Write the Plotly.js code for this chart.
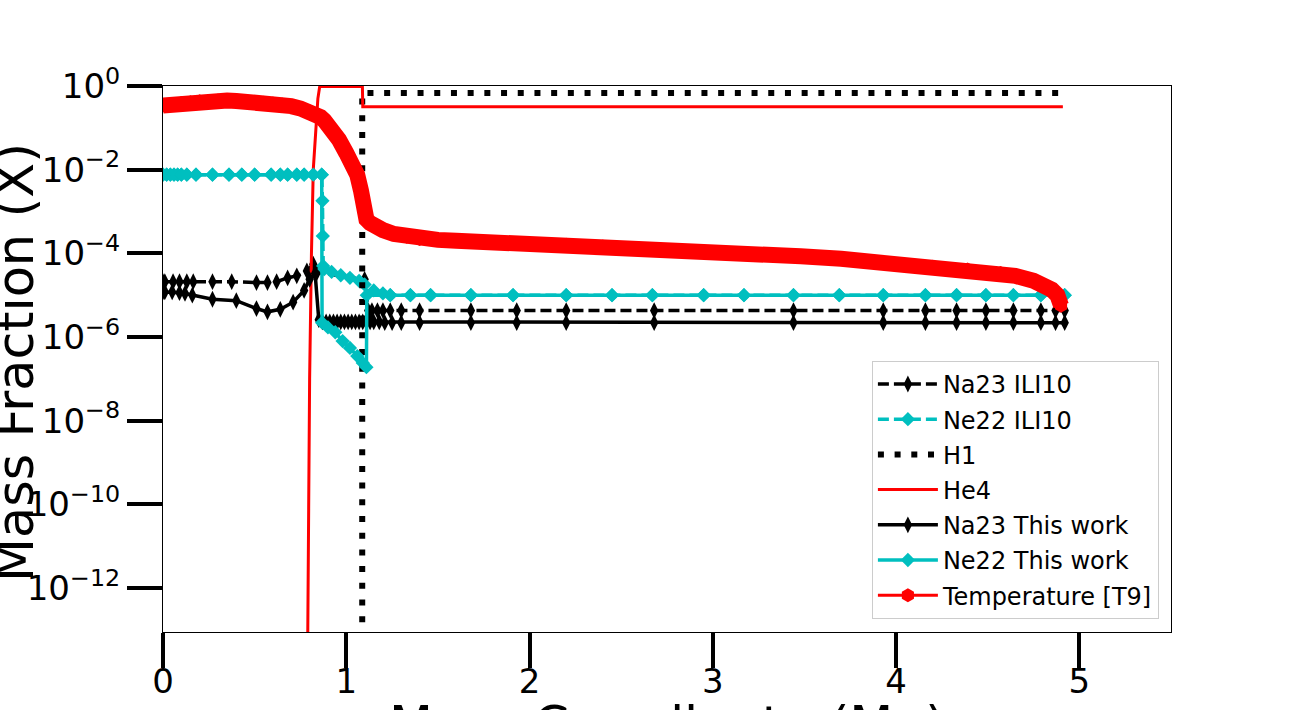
<!DOCTYPE html>
<html><head><meta charset="utf-8">
<script src="https://cdn.plot.ly/plotly-3.0.1.min.js"></script>
<style>body{margin:0;background:#fff}#chart{width:1301px;height:710px}</style>
</head><body><div id="chart"></div>
<script>
// ---- data ----
const naIliMass = [0, 0.01, 0.055, 0.09, 0.13, 0.165, 0.27, 0.375, 0.51, 0.57, 0.62, 0.68, 0.73, 0.785, 0.82, 0.84, 1.1, 1.12, 1.14, 1.17, 1.2, 1.24, 1.3, 1.4, 1.68, 1.93, 2.2, 2.68, 3.44, 3.93, 4.16, 4.33, 4.49, 4.64, 4.79, 4.87, 4.92];
const naIliX = [2.1e-5, 2.1e-5, 2.1e-5, 2.1e-5, 2.1e-5, 2.1e-5, 2.1e-5, 2.1e-5, 2.0e-5, 2.0e-5, 2.1e-5, 2.6e-5, 2.9e-5, 3.8e-5, 5.5e-5, 3.5e-5, 2.4e-5, 4.3e-6, 4.3e-6, 4.3e-6, 4.3e-6, 4.3e-6, 4.3e-6, 4.3e-6, 4.3e-6, 4.3e-6, 4.3e-6, 4.3e-6, 4.3e-6, 4.3e-6, 4.3e-6, 4.3e-6, 4.3e-6, 4.3e-6, 4.3e-6, 4.3e-6, 4.3e-6];

const neIliMass = [0, 0.02, 0.04, 0.06, 0.08, 0.10, 0.13, 0.18, 0.27, 0.36, 0.43, 0.50, 0.59, 0.64, 0.68, 0.73, 0.77, 0.82, 0.866, 0.87, 0.872, 0.874, 0.88, 0.92, 0.97, 1.02, 1.07, 1.1, 1.15, 1.2, 1.24, 1.35, 1.46, 1.68, 1.91, 2.20, 2.45, 2.67, 2.95, 3.17, 3.44, 3.69, 3.93, 4.16, 4.33, 4.49, 4.64, 4.79, 4.87, 4.92];
const neIliX = [7.6e-3, 7.6e-3, 7.6e-3, 7.6e-3, 7.6e-3, 7.6e-3, 7.6e-3, 7.6e-3, 7.6e-3, 7.6e-3, 7.6e-3, 7.6e-3, 7.6e-3, 7.6e-3, 7.6e-3, 7.6e-3, 7.6e-3, 7.6e-3, 7.6e-3, 1.8e-3, 2.6e-4, 5.0e-5, 4.2e-5, 3.6e-5, 3.0e-5, 2.6e-5, 2.2e-5, 1.8e-5, 1.3e-5, 1.1e-5, 1.0e-5, 1.0e-5, 1.0e-5, 1.0e-5, 1.0e-5, 1.0e-5, 1.0e-5, 1.0e-5, 1.0e-5, 1.0e-5, 1.0e-5, 1.0e-5, 1.0e-5, 1.0e-5, 1.0e-5, 1.0e-5, 1.0e-5, 1.0e-5, 1.0e-5, 1.0e-5];

const h1Mass = [1.087, 1.087, 4.91];
const h1X = [1e-20, 0.68, 0.68];

const he4Mass = [0.785, 0.800, 0.81, 0.82, 0.845, 0.855, 1.088, 1.090, 4.91];
const he4X = [1e-16, 1e-7, 1e-4, 1e-2, 0.5, 0.97, 0.97, 0.32, 0.32];

const naThisMass = [0, 0.01, 0.05, 0.09, 0.12, 0.16, 0.27, 0.40, 0.51, 0.57, 0.64, 0.71, 0.77, 0.80, 0.83, 0.85, 0.87, 0.89, 0.91, 0.93, 0.95, 0.97, 0.99, 1.01, 1.03, 1.05, 1.07, 1.09, 1.11, 1.13, 1.15, 1.18, 1.21, 1.25, 1.3, 1.4, 1.68, 1.93, 2.2, 2.68, 3.44, 3.93, 4.16, 4.33, 4.49, 4.64, 4.79, 4.87, 4.92];
const naThisX = [1.2e-5, 1.2e-5, 1.2e-5, 1.15e-5, 1.1e-5, 1.0e-5, 8.0e-6, 7.4e-6, 4.8e-6, 4.0e-6, 4.6e-6, 6.8e-6, 1.3e-5, 2.4e-5, 3.3e-5, 2.6e-6, 2.3e-6, 2.3e-6, 2.3e-6, 2.3e-6, 2.3e-6, 2.3e-6, 2.3e-6, 2.3e-6, 2.3e-6, 2.3e-6, 2.3e-6, 2.3e-6, 2.3e-6, 2.3e-6, 2.3e-6, 2.3e-6, 2.2e-6, 2.2e-6, 2.2e-6, 2.2e-6, 2.2e-6, 2.2e-6, 2.2e-6, 2.2e-6, 2.2e-6, 2.2e-6, 2.2e-6, 2.2e-6, 2.2e-6, 2.2e-6, 2.2e-6, 2.2e-6, 2.2e-6];

const neThisMass = [0, 0.02, 0.04, 0.06, 0.08, 0.10, 0.13, 0.18, 0.27, 0.36, 0.43, 0.50, 0.59, 0.64, 0.68, 0.73, 0.77, 0.82, 0.866, 0.868, 0.90, 0.94, 0.98, 1.02, 1.06, 1.09, 1.11, 1.112, 1.24, 1.35, 1.46, 1.68, 1.91, 2.20, 2.45, 2.67, 2.95, 3.17, 3.44, 3.69, 3.93, 4.16, 4.33, 4.49, 4.64, 4.79, 4.87, 4.92];
const neThisX = [7.6e-3, 7.6e-3, 7.6e-3, 7.6e-3, 7.6e-3, 7.6e-3, 7.6e-3, 7.6e-3, 7.6e-3, 7.6e-3, 7.6e-3, 7.6e-3, 7.6e-3, 7.6e-3, 7.6e-3, 7.6e-3, 7.6e-3, 7.6e-3, 7.6e-3, 2.2e-6, 1.7e-6, 1.3e-6, 8.0e-7, 5.5e-7, 3.5e-7, 2.4e-7, 1.9e-7, 1.0e-5, 1.0e-5, 1.0e-5, 1.0e-5, 1.0e-5, 1.0e-5, 1.0e-5, 1.0e-5, 1.0e-5, 1.0e-5, 1.0e-5, 1.0e-5, 1.0e-5, 1.0e-5, 1.0e-5, 1.0e-5, 1.0e-5, 1.0e-5, 1.0e-5, 1.0e-5, 1.0e-5];

const tempMass = [0, 0.05, 0.1, 0.15, 0.2, 0.25, 0.3, 0.35, 0.4, 0.45, 0.5, 0.55, 0.6, 0.65, 0.7, 0.75, 0.8, 0.84, 0.86, 0.88, 0.92, 0.96, 1.0, 1.03, 1.06, 1.08, 1.095, 1.11, 1.13, 1.16, 1.2, 1.26, 1.33, 1.4, 1.5, 1.6, 1.7, 1.84, 2.0, 2.2, 2.4, 2.6, 2.8, 2.93, 3.2, 3.48, 3.7, 4.03, 4.2, 4.39, 4.57, 4.65, 4.75, 4.8, 4.85, 4.88, 4.9];
const tempT9 = [0.34, 0.36, 0.39, 0.41, 0.43, 0.44, 0.45, 0.45, 0.44, 0.43, 0.42, 0.40, 0.38, 0.36, 0.33, 0.29, 0.25, 0.20, 0.18, 0.15, 0.095, 0.052, 0.025, 0.014, 0.0075, 0.0032, 0.0011, 6.5e-4, 5.3e-4, 4.2e-4, 3.6e-4, 2.9e-4, 2.5e-4, 2.2e-4, 2.1e-4, 2.0e-4, 1.93e-4, 1.86e-4, 1.75e-4, 1.6e-4, 1.45e-4, 1.3e-4, 1.15e-4, 1.07e-4, 9.6e-5, 8.5e-5, 7.4e-5, 5.4e-5, 4.8e-5, 4.1e-5, 3.4e-5, 2.9e-5, 2.2e-5, 1.8e-5, 1.35e-5, 1.0e-5, 5.6e-6];

const xTickVals = [0, 1, 2, 3, 4, 5];
const yTickVals = [1, 1e-2, 1e-4, 1e-6, 1e-8, 1e-10, 1e-12];
const yTickText = ['10<sup>0</sup>', '10<sup>−2</sup>', '10<sup>−4</sup>', '10<sup>−6</sup>', '10<sup>−8</sup>', '10<sup>−10</sup>', '10<sup>−12</sup>'];
const xTitle = 'Mass Coordinate (M<sub>☉</sub>)';
const yTitle = 'Mass Fraction (X)';

// ---- styling ----
const CYAN = '#00bfbf';
const FONT = 'DejaVu Sans, sans-serif';

const traces = [
  {x: naIliMass, y: naIliX, name: 'Na23 ILI10', legendgroup: 'g1', mode: 'lines+markers',
   line: {color: 'black', width: 3.5, dash: '11px,5px'},
   marker: {symbol: 'diamond-tall', size: 12, color: 'black'}},
  {x: neIliMass, y: neIliX, name: 'Ne22 ILI10', legendgroup: 'g2', mode: 'lines+markers',
   line: {color: CYAN, width: 3.5, dash: '11px,5px'},
   marker: {symbol: 'diamond', size: 11, color: CYAN}},
  {x: h1Mass, y: h1X, name: 'H1', legendgroup: 'g3', mode: 'lines',
   line: {color: 'black', width: 6, dash: '6px,10.7px'}},
  {x: he4Mass, y: he4X, name: 'He4', legendgroup: 'g4', mode: 'lines',
   line: {color: 'red', width: 3}},
  {x: naThisMass, y: naThisX, name: 'Na23 This work', legendgroup: 'g5', mode: 'lines+markers',
   line: {color: 'black', width: 3.5},
   marker: {symbol: 'diamond-tall', size: 12, color: 'black'}},
  {x: neThisMass, y: neThisX, name: 'Ne22 This work', legendgroup: 'g6', mode: 'lines+markers',
   line: {color: CYAN, width: 3.5},
   marker: {symbol: 'diamond', size: 11, color: CYAN}},
  {x: tempMass, y: tempT9, name: 'Temperature [T9]', legendgroup: 'g7', mode: 'lines+markers',
   line: {color: 'red', width: 3},
   marker: {symbol: 'hexagon', size: 14, color: 'red'}},
  {x: tempMass, y: tempT9, name: 'Temperature [T9]', legendgroup: 'g7', showlegend: false, mode: 'lines',
   line: {color: 'red', width: 16}, hoverinfo: 'skip'}
];

const layout = {
  width: 1301, height: 710,
  margin: {l: 163, r: 130, t: 86, b: 78},
  paper_bgcolor: 'white', plot_bgcolor: 'white',
  font: {family: FONT, color: 'black'},
  showlegend: true,
  xaxis: {
    range: [0, 5.5], tickvals: xTickVals, ticks: 'outside', ticklen: 35, tickwidth: 4, tickcolor: 'black',
    ticklabelstandoff: -16,
    showline: true, linecolor: 'black', linewidth: 1, mirror: true, showgrid: false, zeroline: false,
    tickfont: {size: 34, family: FONT}
  },
  yaxis: {
    type: 'log', range: [-13.05, 0], tickvals: yTickVals, ticktext: yTickText,
    ticks: 'outside', ticklen: 35, tickwidth: 4, tickcolor: 'black',
    showline: true, linecolor: 'black', linewidth: 1, mirror: true, showgrid: false, zeroline: false,
    tickfont: {size: 34, family: FONT}
  },
  annotations: [
    {text: xTitle, xref: 'paper', yref: 'paper', x: 0.5, y: -0.177, xanchor: 'center', yanchor: 'middle',
     showarrow: false, font: {size: 51, family: FONT}},
    {text: yTitle, xref: 'paper', yref: 'paper', x: -0.1458, y: 0.4927, xanchor: 'center', yanchor: 'middle',
     textangle: -90, showarrow: false, font: {size: 51, family: FONT}}
  ],
  legend: {
    x: 0.988, xanchor: 'right', y: 0.024, yanchor: 'bottom',
    bordercolor: '#cccccc', borderwidth: 1, bgcolor: 'rgba(255,255,255,0.85)',
    font: {size: 24, family: FONT}, itemwidth: 60, tracegroupgap: 1, itemsizing: 'trace'
  }
};

Plotly.newPlot('chart', traces, layout, {displayModeBar: false, staticPlot: true});
</script></body></html>
